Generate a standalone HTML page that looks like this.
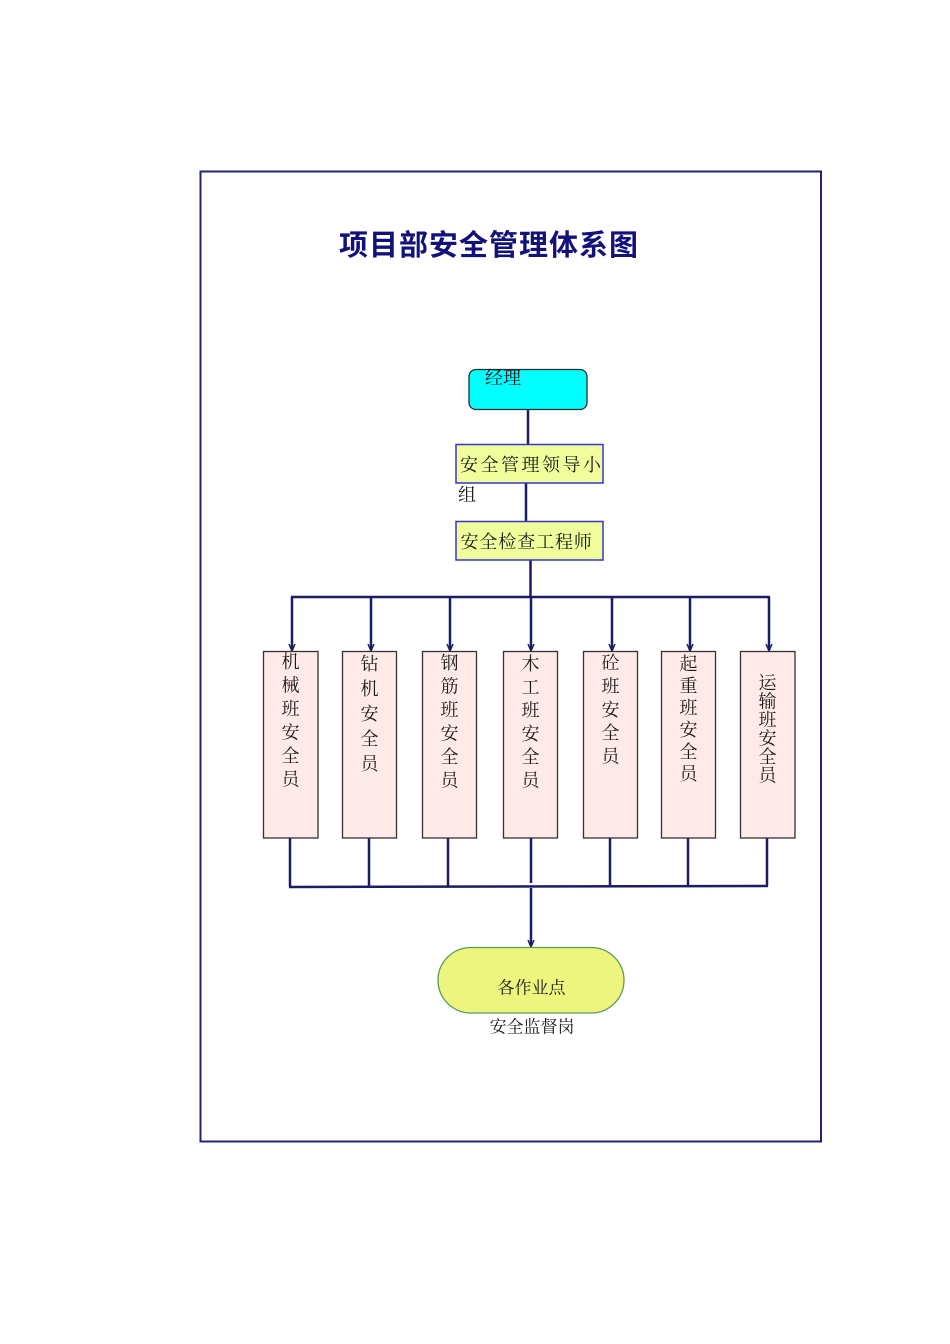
<!DOCTYPE html>
<html>
<head>
<meta charset="utf-8">
<style>
  html,body{margin:0;padding:0;background:#fff;}
  svg{display:block;}
  .t{font-family:"Liberation Serif","Noto Serif CJK SC",serif;font-size:18px;fill:#1a1a1a;}
  .title{font-family:"Liberation Sans","Noto Sans CJK SC",sans-serif;font-size:29px;font-weight:bold;fill:#12127a;}
</style>
</head>
<body>
<svg width="950" height="1344" viewBox="0 0 950 1344" xmlns="http://www.w3.org/2000/svg">
  <!-- frame -->
  <rect x="200.5" y="171.5" width="620.5" height="970" fill="none" stroke="#23236e" stroke-width="2"/>

  <!-- title -->
  <g class="title" text-anchor="middle" dominant-baseline="central">
    <text x="353.5" y="246">项</text>
    <text x="383.5" y="246">目</text>
    <text x="413.5" y="246">部</text>
    <text x="443.5" y="246">安</text>
    <text x="473.5" y="246">全</text>
    <text x="503.5" y="246">管</text>
    <text x="533.5" y="246">理</text>
    <text x="563.5" y="246">体</text>
    <text x="593.5" y="246">系</text>
    <text x="623.5" y="246">图</text>
  </g>

  <!-- connectors -->
  <g stroke="#1c1c66" stroke-width="2.5" fill="none">
    <line x1="528" y1="410" x2="528" y2="445"/>
    <line x1="526" y1="483" x2="526" y2="521"/>
    <line x1="530.5" y1="560" x2="530.5" y2="597"/>
    <line x1="291" y1="597" x2="770" y2="597"/>
    <line x1="292" y1="597" x2="292" y2="650"/>
    <line x1="371" y1="597" x2="371" y2="650"/>
    <line x1="450" y1="597" x2="450" y2="650"/>
    <line x1="531" y1="597" x2="531" y2="650"/>
    <line x1="612" y1="597" x2="612" y2="650"/>
    <line x1="690" y1="597" x2="690" y2="650"/>
    <line x1="769" y1="597" x2="769" y2="650"/>
    <line x1="290" y1="838" x2="290" y2="887"/>
    <line x1="369" y1="838" x2="369" y2="887"/>
    <line x1="448" y1="838" x2="448" y2="887"/>
    <line x1="531" y1="838" x2="531" y2="883"/>
    <line x1="610" y1="838" x2="610" y2="887"/>
    <line x1="688" y1="838" x2="688" y2="887"/>
    <line x1="767" y1="838" x2="767" y2="886"/>
    <line x1="289" y1="887" x2="768" y2="886"/>
    <line x1="531" y1="888" x2="531" y2="945"/>
  </g>
  <!-- arrowheads -->
  <g stroke="#1c1c66" stroke-width="1.5" fill="none">
    <polyline points="289,644 292,651 295,644"/>
    <polyline points="368,644 371,651 374,644"/>
    <polyline points="447,644 450,651 453,644"/>
    <polyline points="528,644 531,651 534,644"/>
    <polyline points="609,644 612,651 615,644"/>
    <polyline points="687,644 690,651 693,644"/>
    <polyline points="766,644 769,651 772,644"/>
    <polyline points="528,940 531,947 534,940"/>
  </g>

  <!-- 经理 -->
  <rect x="469" y="369.5" width="118" height="40" rx="7" ry="7" fill="#00ffff" stroke="#2a2a2a" stroke-width="1.3"/>
  <text class="t" x="485" y="378" dominant-baseline="central">经理</text>

  <!-- 安全管理领导小组 -->
  <rect x="456" y="444.5" width="147" height="38.5" fill="#f0ff9c" stroke="#3636c8" stroke-width="1.5"/>
  <g class="t" text-anchor="middle" dominant-baseline="central">
    <text x="469" y="465">安</text>
    <text x="489.5" y="465">全</text>
    <text x="510" y="465">管</text>
    <text x="530.5" y="465">理</text>
    <text x="551" y="465">领</text>
    <text x="571.5" y="465">导</text>
    <text x="592" y="465">小</text>
    <text x="467" y="495">组</text>
  </g>

  <!-- 安全检查工程师 -->
  <rect x="456" y="521.5" width="147" height="38.5" fill="#f0ff9c" stroke="#3636c8" stroke-width="1.5"/>
  <g class="t" text-anchor="middle" dominant-baseline="central">
    <text x="469.5" y="542">安</text>
    <text x="488.4" y="542">全</text>
    <text x="507.3" y="542">检</text>
    <text x="526.2" y="542">查</text>
    <text x="545.1" y="542">工</text>
    <text x="564" y="542">程</text>
    <text x="582.9" y="542">师</text>
  </g>

  <!-- safety officer boxes -->
  <g fill="#ffe9e9" stroke="#333" stroke-width="1.3">
    <rect x="263.5" y="651.5" width="54.5" height="186.5"/>
    <rect x="342.5" y="651.5" width="54" height="186.5"/>
    <rect x="422.5" y="651.5" width="54" height="186.5"/>
    <rect x="503.5" y="651.5" width="54" height="186.5"/>
    <rect x="583.5" y="651.5" width="54" height="186.5"/>
    <rect x="661.5" y="651.5" width="54" height="186.5"/>
    <rect x="740.5" y="651.5" width="54.5" height="186.5"/>
  </g>
  <g class="t" text-anchor="middle" dominant-baseline="central">
    <text x="290.5" y="662">机</text>
    <text x="290.5" y="685.5">械</text>
    <text x="290.5" y="709">班</text>
    <text x="290.5" y="732.5">安</text>
    <text x="290.5" y="756">全</text>
    <text x="290.5" y="779.5">员</text>

    <text x="369.5" y="664">钻</text>
    <text x="369.5" y="689">机</text>
    <text x="369.5" y="714">安</text>
    <text x="369.5" y="739">全</text>
    <text x="369.5" y="764">员</text>

    <text x="449.5" y="663">钢</text>
    <text x="449.5" y="686.5">筋</text>
    <text x="449.5" y="710">班</text>
    <text x="449.5" y="733.5">安</text>
    <text x="449.5" y="757">全</text>
    <text x="449.5" y="780.5">员</text>

    <text x="530.5" y="664">木</text>
    <text x="530.5" y="687.3">工</text>
    <text x="530.5" y="710.6">班</text>
    <text x="530.5" y="733.9">安</text>
    <text x="530.5" y="757.2">全</text>
    <text x="530.5" y="780.5">员</text>

    <text x="610.5" y="663">砼</text>
    <text x="610.5" y="686.5">班</text>
    <text x="610.5" y="710">安</text>
    <text x="610.5" y="733">全</text>
    <text x="610.5" y="756.5">员</text>

    <text x="688.5" y="664">起</text>
    <text x="688.5" y="686">重</text>
    <text x="688.5" y="708">班</text>
    <text x="688.5" y="730">安</text>
    <text x="688.5" y="752">全</text>
    <text x="688.5" y="774">员</text>

    <text x="767.5" y="683">运</text>
    <text x="767.5" y="701.5">输</text>
    <text x="767.5" y="720">班</text>
    <text x="767.5" y="738.5">安</text>
    <text x="767.5" y="757">全</text>
    <text x="767.5" y="775.5">员</text>
  </g>

  <!-- 各作业点 -->
  <rect x="438" y="947.5" width="186" height="65.5" rx="33" ry="33" fill="#eef57e" stroke="#5a9a5a" stroke-width="1.3"/>
  <g class="t" text-anchor="middle" dominant-baseline="central" style="font-size:17px">
    <text x="531.5" y="988">各作业点</text>
    <text x="532" y="1027">安全监督岗</text>
  </g>
</svg>
</body>
</html>
